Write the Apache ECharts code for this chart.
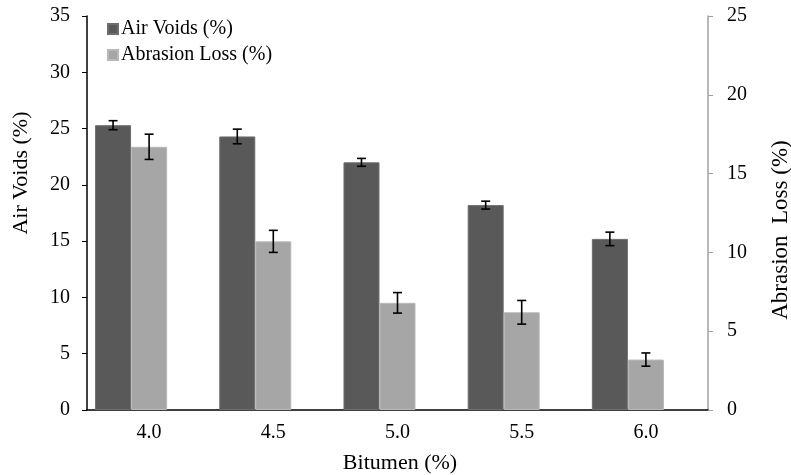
<!DOCTYPE html>
<html>
<head>
<meta charset="utf-8">
<script src="https://cdn.jsdelivr.net/npm/echarts@6/dist/echarts.min.js"></script>
<style>
html,body{margin:0;padding:0;background:#fff;}
#chart{width:791px;height:475px;}
</style>
</head>
<body>
<div id="chart"></div>
<script>
const categories = ['4.0', '4.5', '5.0', '5.5', '6.0'];
const airVoids = [25.3, 24.3, 22.0, 18.2, 15.2];
const airVoidsErr = [0.4, 0.65, 0.35, 0.35, 0.6];
const abrasionLoss = [16.7, 10.7, 6.8, 6.2, 3.2];
const abrasionErr = [0.8, 0.7, 0.65, 0.75, 0.42];
const leftTicks = [0, 5, 10, 15, 20, 25, 30, 35];
const rightTicks = [0, 5, 10, 15, 20, 25];

const FONT = 'Liberation Serif';
const BAR_FRAC = 0.29;

const chart = echarts.init(document.getElementById('chart'), null, {renderer: 'canvas'});

function errItem(offsetFrac) {
  return function (params, api) {
    const x = api.value(0), v = api.value(1), e = api.value(2);
    const hi = api.coord([x, v + e]);
    const lo = api.coord([x, v - e]);
    const band = api.size([1, 0])[0];
    const cx = hi[0] + offsetFrac * band;
    const cap = 4.5;
    const style = {stroke: '#000', lineWidth: 1.6};
    return {
      type: 'group',
      children: [
        {type: 'line', shape: {x1: cx, y1: hi[1], x2: cx, y2: lo[1]}, style: style},
        {type: 'line', shape: {x1: cx - cap, y1: hi[1], x2: cx + cap, y2: hi[1]}, style: style},
        {type: 'line', shape: {x1: cx - cap, y1: lo[1], x2: cx + cap, y2: lo[1]}, style: style}
      ]
    };
  };
}

const option = {
  animation: false,
  backgroundColor: '#fff',
  textStyle: {fontFamily: FONT},
  grid: {left: 87, right: 83, top: 16, bottom: 65, containLabel: false},
  legend: {
    data: ['Air Voids (%)', 'Abrasion Loss (%)'],
    orient: 'vertical',
    left: 102,
    top: 14,
    itemWidth: 10,
    itemHeight: 10,
    itemGap: 6,
    icon: 'rect',
    textStyle: {fontFamily: FONT, fontSize: 20, color: '#000', padding: [0, 0, 0, -2]}
  },
  xAxis: {
    type: 'category',
    data: categories,
    boundaryGap: true,
    axisLine: {lineStyle: {color: '#000', width: 1.5}},
    axisTick: {show: false},
    axisLabel: {fontFamily: FONT, fontSize: 20, color: '#000', margin: 13}
  },
  yAxis: [
    {
      type: 'value', min: 0, max: 35, interval: 5, position: 'left',
      splitLine: {show: false},
      axisLine: {show: true, lineStyle: {color: '#000', width: 1.5}},
      axisTick: {show: true, inside: false, length: 5, lineStyle: {color: '#000'}},
      axisLabel: {fontFamily: FONT, fontSize: 20, color: '#000', margin: 17,
        formatter: v => leftTicks.includes(v) ? String(v) : ''}
    },
    {
      type: 'value', min: 0, max: 25, interval: 5, position: 'right',
      splitLine: {show: false},
      axisLine: {show: true, lineStyle: {color: '#a0a0a0', width: 1.5}},
      axisTick: {show: true, inside: false, length: 5, lineStyle: {color: '#a0a0a0'}},
      axisLabel: {fontFamily: FONT, fontSize: 20, color: '#000', margin: 19,
        formatter: v => rightTicks.includes(v) ? String(v) : ''}
    }
  ],
  graphic: [
    {id: 'yl', type: 'text', x: 21, y: 173, rotation: Math.PI / 2,
      style: {text: 'Air Voids (%)', font: '22px "Liberation Serif"', fill: '#000', align: 'center', verticalAlign: 'middle'}},
    {id: 'yr', type: 'text', x: 781, y: 230, rotation: Math.PI / 2,
      style: {text: 'Abrasion  Loss (%)', font: '23px "Liberation Serif"', fill: '#000', align: 'center', verticalAlign: 'middle'}},
    {id: 'xt', type: 'text', x: 400, y: 463,
      style: {text: 'Bitumen (%)', font: '22px "Liberation Serif"', fill: '#000', align: 'center', verticalAlign: 'middle'}}
  ],
  series: [
    {
      name: 'Air Voids (%)', type: 'bar', yAxisIndex: 0, data: airVoids,
      barWidth: (BAR_FRAC * 100) + '%', barGap: '0%',
      itemStyle: {color: '#595959', borderColor: '#6e6e6e', borderWidth: 1}
    },
    {
      name: 'Abrasion Loss (%)', type: 'bar', yAxisIndex: 1, data: abrasionLoss,
      barWidth: (BAR_FRAC * 100) + '%', barGap: '0%',
      itemStyle: {color: '#a6a6a6', borderColor: '#b8b8b8', borderWidth: 1}
    },
    {
      name: 'pad', type: 'bar', yAxisIndex: 1, data: categories.map(() => '-'),
      barWidth: (BAR_FRAC * 100) + '%', barGap: '0%', silent: true
    },
    {
      type: 'custom', yAxisIndex: 0, z: 5,
      renderItem: errItem(-BAR_FRAC),
      data: airVoids.map((v, i) => [i, v, airVoidsErr[i]])
    },
    {
      type: 'custom', yAxisIndex: 1, z: 5,
      renderItem: errItem(0),
      data: abrasionLoss.map((v, i) => [i, v, abrasionErr[i]])
    }
  ]
};
chart.setOption(option);
</script>
</body>
</html>
